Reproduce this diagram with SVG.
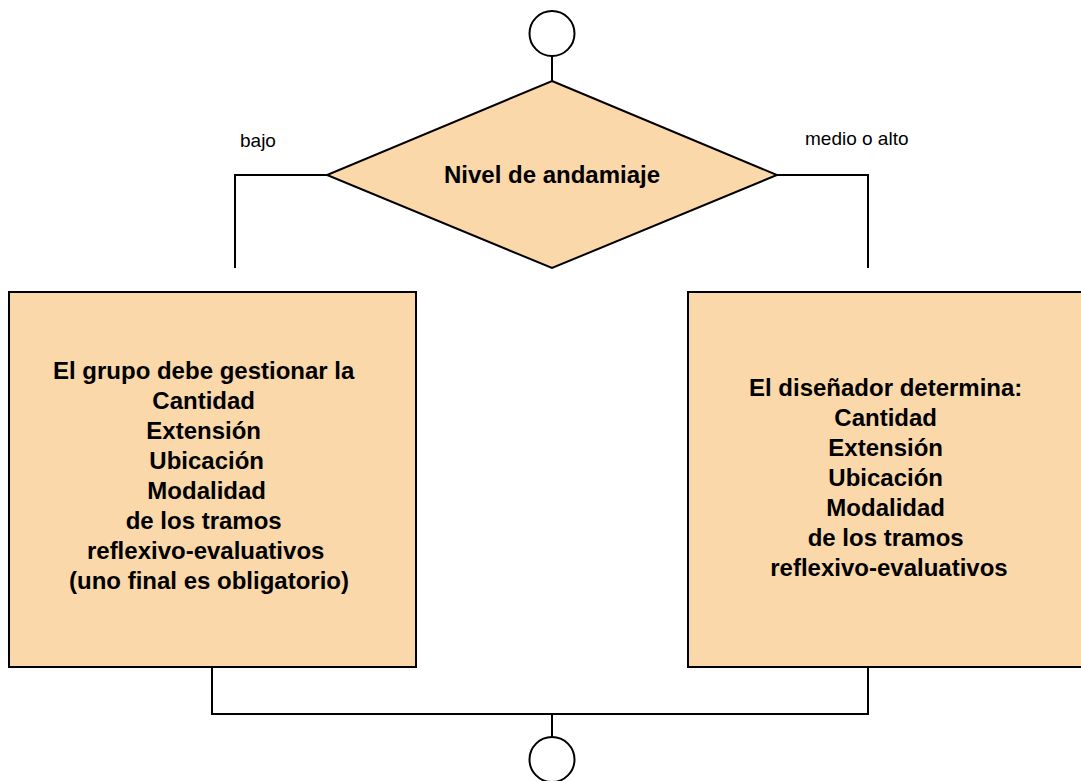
<svg xmlns="http://www.w3.org/2000/svg" width="1081" height="781" viewBox="0 0 1081 781">
<style>
.shape{fill:#FBD8A9;stroke:#000;stroke-width:2}
.term{fill:#fff;stroke:#000;stroke-width:2}
.conn{fill:none;stroke:#000;stroke-width:2}
.bold{font-family:"Liberation Sans",Arial,sans-serif;font-weight:bold;font-size:24px;fill:#000;text-anchor:middle}
.lbl{font-family:"Liberation Sans",Arial,sans-serif;font-size:19px;fill:#000}
</style>
<rect width="1081" height="781" fill="#fff"/>
<g id="connectors">
<line class="conn" x1="552" y1="56" x2="552" y2="81"/>
<polyline class="conn" points="327,175 235,175 235,268"/>
<polyline class="conn" points="777,175 868,175 868,268"/>
<polyline class="conn" points="212,667 212,714 868,714 868,667"/>
<line class="conn" x1="552" y1="714" x2="552" y2="737"/>
</g>
<g id="start">
<circle class="term" cx="552" cy="33.5" r="22.5"/>
</g>
<g id="decision">
<polygon class="shape" points="552,81 777,175 552,268 327,175"/>
<text class="bold" x="552" y="183">Nivel de andamiaje</text>
</g>
<g id="label-bajo">
<text class="lbl" x="240" y="147">bajo</text>
</g>
<g id="label-medio">
<text class="lbl" x="805" y="145">medio o alto</text>
</g>
<g id="box-left">
<rect class="shape" x="9" y="292" width="407" height="375"/>
<text class="bold">
<tspan x="207" y="379">El grupo debe gestionar la</tspan>
<tspan x="207" y="409">Cantidad</tspan>
<tspan x="207" y="439">Extensión</tspan>
<tspan x="210" y="469">Ubicación</tspan>
<tspan x="210" y="499">Modalidad</tspan>
<tspan x="207" y="529">de los tramos</tspan>
<tspan x="209" y="559">reflexivo-evaluativos</tspan>
<tspan x="209" y="589">(uno final es obligatorio)</tspan>
</text>
</g>
<g id="box-right">
<rect class="shape" x="688" y="292" width="400" height="375"/>
<text class="bold">
<tspan x="889" y="396">El diseñador determina:</tspan>
<tspan x="889" y="426">Cantidad</tspan>
<tspan x="889" y="456">Extensión</tspan>
<tspan x="889" y="486">Ubicación</tspan>
<tspan x="889" y="516">Modalidad</tspan>
<tspan x="889" y="546">de los tramos</tspan>
<tspan x="889" y="576">reflexivo-evaluativos</tspan>
</text>
</g>
<g id="end">
<circle class="term" cx="552" cy="759.5" r="22.5"/>
</g>
</svg>
